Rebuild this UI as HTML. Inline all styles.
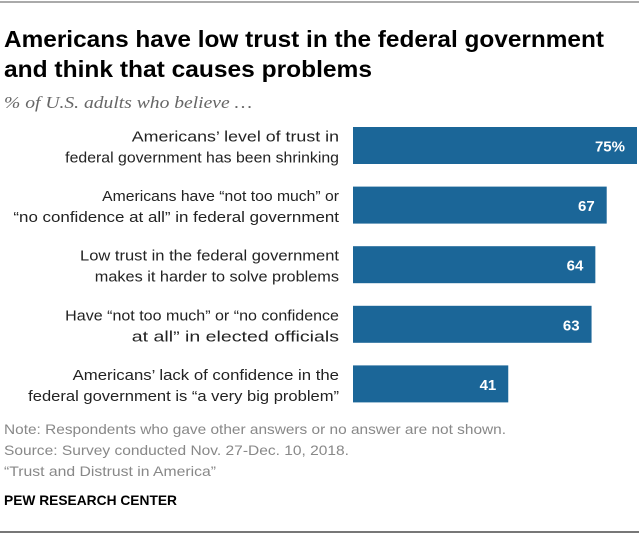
<!DOCTYPE html>
<html><head><meta charset="utf-8"><style>
body{margin:0;background:#fff;}
svg{display:block;font-family:"Liberation Sans",sans-serif;}
</style></head><body>
<svg width="639" height="534" viewBox="0 0 639 534">
<rect x="0" y="1" width="639" height="2" fill="#aaa"/>
<text x="4" y="47" font-size="23" font-weight="bold" fill="#000" textLength="600" lengthAdjust="spacingAndGlyphs">Americans have low trust in the federal government</text>
<text x="4" y="77" font-size="23" font-weight="bold" fill="#000" textLength="368" lengthAdjust="spacingAndGlyphs">and think that causes problems</text>
<text x="4" y="108" font-size="17" font-style="italic" fill="#666" font-family="Liberation Serif, serif" textLength="248" lengthAdjust="spacingAndGlyphs">% of U.S. adults who believe …</text>
<g id="bars"></g>
<text x="4" y="434" font-size="14" fill="#888" textLength="502" lengthAdjust="spacingAndGlyphs">Note: Respondents who gave other answers or no answer are not shown.</text>
<text x="4" y="455" font-size="14" fill="#888" textLength="345" lengthAdjust="spacingAndGlyphs">Source: Survey conducted Nov. 27-Dec. 10, 2018.</text>
<text x="4" y="476" font-size="14" fill="#888" textLength="212" lengthAdjust="spacingAndGlyphs">“Trust and Distrust in America”</text>
<text x="4" y="505" font-size="14" font-weight="bold" fill="#000" textLength="173" lengthAdjust="spacingAndGlyphs">PEW RESEARCH CENTER</text>
<rect x="0" y="531" width="639" height="2" fill="#777"/>
</svg>
<script>
const labels1 = ["Americans’ level of trust in","Americans have “not too much” or","Low trust in the federal government","Have “not too much” or “no confidence","Americans’ lack of confidence in the"];
const labels2 = ["federal government has been shrinking","“no confidence at all” in federal government","makes it harder to solve problems","at all” in elected officials","federal government is “a very big problem”"];
const values = [75,67,64,63,41];
const valueLabels = ["75%","67","64","63","41"];
const NS="http://www.w3.org/2000/svg";
const g=document.getElementById('bars');
const x0=353, pxPer=284/75, y0=127, pitch=59.6, bh=37;
const xs=v=>v*pxPer;
function t(x,y,s,anchor,fill,size,bold,len){
  const e=document.createElementNS(NS,'text');
  e.setAttribute('x',x);e.setAttribute('y',y);e.setAttribute('text-anchor',anchor);
  e.setAttribute('fill',fill);e.setAttribute('font-size',size);
  if(bold)e.setAttribute('font-weight','bold');
  if(len){e.setAttribute('textLength',len);e.setAttribute('lengthAdjust','spacingAndGlyphs');}
  e.textContent=s;g.appendChild(e);return e;
}
values.forEach((v,i)=>{
  const y=y0+i*pitch;
  const r=document.createElementNS(NS,'rect');
  r.setAttribute('x',x0);r.setAttribute('y',y);r.setAttribute('width',xs(v));r.setAttribute('height',bh);
  r.setAttribute('fill','#1b6698');
  
  
  g.appendChild(r);
  const c=y+bh/2;
  const a=t(339,c-4,labels1[i],'end','#222',15,false,labels1[i].length*7.4);
  
  
  const b=t(339,c+17,labels2[i],'end','#222',15,false,labels2[i].length*7.4);
  
  
  const vl=t(x0+xs(v)-12,c+6,valueLabels[i],'end','#fff',15,true);
  
  
});
</script>
</body></html>
